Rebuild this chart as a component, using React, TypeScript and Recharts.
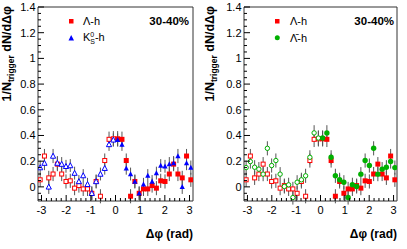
import React from 'react';
import { ScatterChart, Scatter, XAxis, YAxis, ErrorBar, ReferenceArea } from 'recharts';

// Δφ bin centres
const phiNeg = [-3.054, -2.880, -2.705, -2.531, -2.356, -2.182, -2.007, -1.833, -1.658, -1.484, -1.309, -1.134, -0.960, -0.785, -0.611, -0.436, -0.262, -0.087];
const phiPos = [0.087, 0.262, 0.436, 0.611, 0.785, 0.960, 1.134, 1.309, 1.484, 1.658, 1.833, 2.007, 2.182, 2.356, 2.531, 2.705, 2.880, 3.054];

// Λ-h
const lambdaNeg = [0.055, 0.24, 0.07, 0.10, 0.177, 0.10, 0.042, 0.047, -0.01, 0.01, -0.016, -0.016, -0.05, 0.042, -0.073, 0.205, 0.37, 0.374];
const lambdaPos = [0.374, 0.37, 0.205, -0.073, 0.042, -0.05, -0.016, -0.016, 0.01, -0.01, 0.047, 0.042, 0.10, 0.177, 0.10, 0.07, 0.24, 0.055];
const lambdaErrNeg = [0.055, 0.055, 0.055, 0.055, 0.055, 0.055, 0.055, 0.055, 0.055, 0.055, 0.055, 0.055, 0.055, 0.055, 0.055, 0.055, 0.06, 0.06];
const lambdaErrPos = [0.06, 0.06, 0.055, 0.055, 0.055, 0.055, 0.055, 0.055, 0.055, 0.055, 0.055, 0.055, 0.055, 0.055, 0.055, 0.055, 0.055, 0.055];

// K0s-h
const k0sNeg = [0.15, 0.185, 0.0, 0.24, 0.185, 0.177, 0.16, 0.166, 0.107, 0.042, 0.088, 0.02, -0.05, 0.042, 0.10, 0.145, 0.33, 0.366];
const k0sPos = [0.366, 0.33, 0.145, 0.10, 0.042, -0.05, 0.02, 0.088, 0.042, 0.107, 0.166, 0.16, 0.177, 0.185, 0.24, 0.0, 0.185, 0.15];
const k0sErrNeg = [0.055, 0.055, 0.055, 0.055, 0.055, 0.055, 0.05, 0.05, 0.05, 0.05, 0.05, 0.05, 0.05, 0.05, 0.05, 0.05, 0.05, 0.05];
const k0sErrPos = [0.05, 0.05, 0.05, 0.05, 0.05, 0.05, 0.05, 0.05, 0.05, 0.05, 0.05, 0.05, 0.055, 0.055, 0.055, 0.055, 0.055, 0.055];

// anti-Λ-h
const lambdaBarNeg = [0.15, 0.197, 0.153, 0.138, 0.099, 0.30, 0.166, 0.205, 0.099, 0.003, 0.016, -0.083, 0.036, 0.055, 0.086, 0.23, 0.42, 0.38];
const lambdaBarPos = [0.38, 0.42, 0.23, 0.086, 0.055, 0.036, -0.083, 0.016, 0.003, 0.099, 0.205, 0.166, 0.30, 0.099, 0.138, 0.153, 0.197, 0.15];
const lambdaBarErrNeg = [0.055, 0.055, 0.055, 0.055, 0.055, 0.055, 0.055, 0.055, 0.055, 0.055, 0.055, 0.055, 0.055, 0.055, 0.055, 0.055, 0.06, 0.06];
const lambdaBarErrPos = [0.06, 0.06, 0.055, 0.055, 0.055, 0.055, 0.055, 0.055, 0.055, 0.055, 0.055, 0.055, 0.055, 0.055, 0.055, 0.055, 0.055, 0.055];

// ticks
const xTicks = [-3, -2.8, -2.6, -2.4, -2.2, -2, -1.8, -1.6, -1.4, -1.2, -1, -0.8, -0.6, -0.4, -0.2, 0, 0.2, 0.4, 0.6, 0.8, 1, 1.2, 1.4, 1.6, 1.8, 2, 2.2, 2.4, 2.6, 2.8, 3];
const xMajor = [-3, -2, -1, 0, 1, 2, 3];
const yTicks = [-0.1, -0.05, 0, 0.05, 0.1, 0.15, 0.2, 0.25, 0.3, 0.35, 0.4, 0.45, 0.5, 0.55, 0.6, 0.65, 0.7, 0.75, 0.8, 0.85, 0.9, 0.95, 1, 1.05, 1.1, 1.15, 1.2, 1.25, 1.3, 1.35, 1.4];
const yMajor = [0, 0.2, 0.4, 0.6, 0.8, 1, 1.2, 1.4];

const X_DOMAIN: [number, number] = [-3.1416, 3.1416];
const Y_DOMAIN: [number, number] = [-0.11, 1.4];

const FONT = 'Liberation Sans, Arial, Helvetica, sans-serif';
const RED = '#ff0000';
const BLUE = '#0000ff';
const GREEN = '#00b000';
const ERR = '#555555';

const mk = (xs: number[], ys: number[], es: number[]) => xs.map((x, i) => ({ x, y: ys[i], e: es[i] }));

const square = (color: string, open: boolean) => (p: any) => {
  const { cx, cy } = p;
  if (cx == null || cy == null) return <g />;
  return open ? (
    <rect x={cx - 2} y={cy - 2} width={4} height={4} fill="#fff" stroke={color} strokeWidth={1} />
  ) : (
    <rect x={cx - 2.5} y={cy - 2.5} width={5} height={5} fill={color} />
  );
};
const triangle = (color: string, open: boolean) => (p: any) => {
  const { cx, cy } = p;
  if (cx == null || cy == null) return <g />;
  const pts = `${cx},${cy - 2.8} ${cx - 2.6},${cy + 2.2} ${cx + 2.6},${cy + 2.2}`;
  return open ? (
    <polygon points={pts} fill="#fff" stroke={color} strokeWidth={1} />
  ) : (
    <polygon points={pts} fill={color} />
  );
};
const circle = (color: string, open: boolean) => (p: any) => {
  const { cx, cy } = p;
  if (cx == null || cy == null) return <g />;
  return open ? (
    <circle cx={cx} cy={cy} r={2.2} fill="#fff" stroke={color} strokeWidth={1} />
  ) : (
    <circle cx={cx} cy={cy} r={2.7} fill={color} />
  );
};

const XTick = (props: any) => {
  const { x, y, payload } = props;
  const v = payload.value;
  const major = xMajor.includes(v);
  return (
    <g>
      <line x1={x} x2={x} y1={y} y2={y - (major ? 6 : 3)} stroke="#000" strokeWidth={1} />
      {major && (
        <text x={x} y={y + 12.5} textAnchor="middle" fontFamily={FONT} fontSize={11} fill="#000">
          {String(v)}
        </text>
      )}
    </g>
  );
};

const YTick = (props: any) => {
  const { x, y, payload } = props;
  const v = payload.value;
  const major = yMajor.includes(v);
  return (
    <g>
      <line x1={x} x2={x + (major ? 6 : 3)} y1={y} y2={y} stroke="#000" strokeWidth={1} />
      {major && (
        <text x={x - 2.5} y={y + 4} textAnchor="end" fontFamily={FONT} fontSize={11} fill="#000">
          {String(v)}
        </text>
      )}
    </g>
  );
};

type SeriesDef = { data: { x: number; y: number; e: number }[]; shape: any; key: string };

const Panel = ({ width, yWidth, right, series }: { width: number; yWidth: number; right: number; series: SeriesDef[] }) => (
  <ScatterChart width={width} height={249} margin={{ top: 7, right, bottom: 0, left: 0 }}>
    <XAxis
      type="number"
      dataKey="x"
      domain={X_DOMAIN}
      allowDataOverflow
      ticks={xTicks}
      interval={0}
      tickSize={0}
      tickMargin={0}
      tickLine={false}
      axisLine={false}
      height={48}
      tick={XTick}
    />
    <YAxis
      type="number"
      dataKey="y"
      domain={Y_DOMAIN}
      allowDataOverflow
      ticks={yTicks}
      interval={0}
      tickSize={0}
      tickMargin={0}
      tickLine={false}
      axisLine={false}
      width={yWidth}
      tick={YTick}
    />
    <ReferenceArea x1={X_DOMAIN[0]} x2={X_DOMAIN[1]} y1={Y_DOMAIN[0]} y2={Y_DOMAIN[1]} fill="none" fillOpacity={0} stroke="#333" strokeWidth={1} />
    {series.map((s) => (
      <Scatter key={s.key} name={s.key} data={s.data} shape={s.shape} isAnimationActive={false}>
        <ErrorBar dataKey="e" direction="y" width={0} stroke={ERR} strokeWidth={1} />
      </Scatter>
    ))}
  </ScatterChart>
);

const YTitle = ({ x }: { x: number }) => (
  <text transform={`translate(${x},6) rotate(-90)`} textAnchor="end" fontFamily={FONT} fontWeight="bold" fontSize={12.5} fill="#000">
    <tspan>1/N</tspan>
    <tspan fontSize={8.5} dy={3}>trigger</tspan>
    <tspan dy={-3}> dN/dΔφ</tspan>
  </text>
);

export default function App() {
  const leftSeries: SeriesDef[] = [
    { key: 'lambdaNeg', data: mk(phiNeg, lambdaNeg, lambdaErrNeg), shape: square(RED, true) },
    { key: 'lambdaPos', data: mk(phiPos, lambdaPos, lambdaErrPos), shape: square(RED, false) },
    { key: 'k0sNeg', data: mk(phiNeg, k0sNeg, k0sErrNeg), shape: triangle(BLUE, true) },
    { key: 'k0sPos', data: mk(phiPos, k0sPos, k0sErrPos), shape: triangle(BLUE, false) },
  ];
  const rightSeries: SeriesDef[] = [
    { key: 'lambdaNeg', data: mk(phiNeg, lambdaNeg, lambdaErrNeg), shape: square(RED, true) },
    { key: 'lambdaPos', data: mk(phiPos, lambdaPos, lambdaErrPos), shape: square(RED, false) },
    { key: 'lbarNeg', data: mk(phiNeg, lambdaBarNeg, lambdaBarErrNeg), shape: circle(GREEN, true) },
    { key: 'lbarPos', data: mk(phiPos, lambdaBarPos, lambdaBarErrPos), shape: circle(GREEN, false) },
  ];

  return (
    <div style={{ position: 'absolute', left: 0, top: 0, width: 407, height: 249, background: '#fff', overflow: 'hidden' }}>
      <div style={{ position: 'absolute', left: 0, top: 0 }}>
        <Panel width={205} yWidth={38} right={12} series={leftSeries} />
      </div>
      <div style={{ position: 'absolute', left: 205, top: 0 }}>
        <Panel width={202} yWidth={39} right={10} series={rightSeries} />
      </div>
      <svg width={407} height={249} style={{ position: 'absolute', left: 0, top: 0, pointerEvents: 'none' }}>
        <YTitle x={10.5} />
        <YTitle x={214} />
        {/* left legend */}
        <rect x={69} y={19} width={4.5} height={4.5} fill={RED} />
        <text x={83} y={25} fontFamily={FONT} fontSize={11} fill="#000">Λ-h</text>
        <polygon points="71.2,35 68.5,40.5 74,40.5" fill={BLUE} />
        <text x={83} y={41} fontFamily={FONT} fontSize={11} fill="#000">
          <tspan>K</tspan>
          <tspan fontSize={7} dy={-4}>0</tspan>
          <tspan fontSize={7} dx={-4} dy={7}>S</tspan>
          <tspan dy={-3}>-h</tspan>
        </text>
        <text x={189} y={25} textAnchor="end" fontFamily={FONT} fontWeight="bold" fontSize={11.5} fill="#000">30-40%</text>
        <text x={193} y={238} textAnchor="end" fontFamily={FONT} fontWeight="bold" fontSize={12} fill="#000">Δφ (rad)</text>
        {/* right legend */}
        <rect x={275} y={19} width={4.5} height={4.5} fill={RED} />
        <text x={290} y={25} fontFamily={FONT} fontSize={11} fill="#000">Λ-h</text>
        <circle cx={277.3} cy={37.7} r={2.5} fill={GREEN} />
        <text x={290} y={42} fontFamily={FONT} fontSize={11} fill="#000">Λ̄-h</text>
        <text x={394} y={25} textAnchor="end" fontFamily={FONT} fontWeight="bold" fontSize={11.5} fill="#000">30-40%</text>
        <text x={397} y={238} textAnchor="end" fontFamily={FONT} fontWeight="bold" fontSize={12} fill="#000">Δφ (rad)</text>
      </svg>
    </div>
  );
}
